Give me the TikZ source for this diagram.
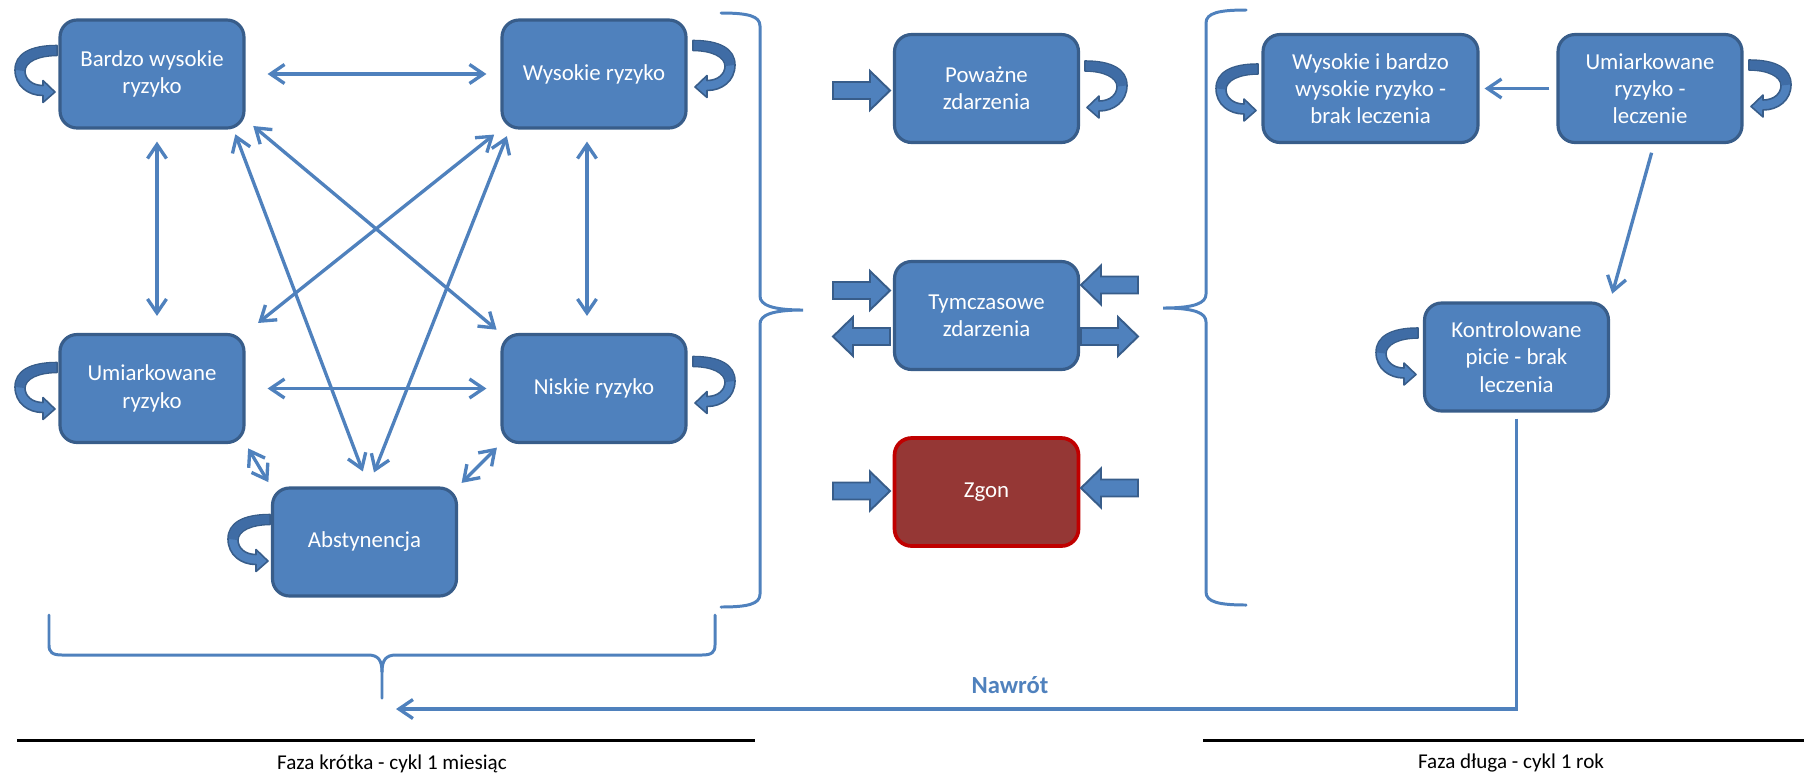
\documentclass[tikz,border=0pt]{standalone}
\usepackage{fontspec}
\setmainfont{Carlito}
\usetikzlibrary{arrows.meta}

\definecolor{boxblue}{HTML}{4F81BD}
\definecolor{boxedge}{HTML}{385D8A}
\definecolor{loopdark}{HTML}{3F6CA5}
\definecolor{deathfill}{HTML}{953735}
\definecolor{deathedge}{HTML}{C00000}

\tikzset{
    state/.style={draw=boxedge, fill=boxblue, line width=1.8pt, rounded corners=0.34cm,
        minimum width=3.68cm, minimum height=2.16cm, inner sep=2pt, align=center,
        text=white, font=\fontsize{13}{15.5}\selectfont},
    flow/.style={draw=boxblue, line width=1.9pt},
    bracket/.style={draw=boxblue, line width=1.7pt, line cap=round},
    phase/.style={font=\fontsize{12}{14}\selectfont},
    selfloop/.pic={
        \filldraw[fill=boxblue, draw=boxedge, line width=0.9pt, line join=round]
            (-3,-28.5) .. controls (-30,-28.5) and (-45,-20) .. (-45,-4)
            .. controls (-45,12) and (-32,21.5) .. (-17,21.5) -- (-17,28.5) -- (-5,18)
            -- (-17,6.5) -- (-17,11.5) .. controls (-28,11.5) and (-35,5) .. (-35,-3)
            .. controls (-35,-12) and (-22,-18.5) .. (-3,-18.5) -- cycle;
        \fill[loopdark] (-3.6,-27.8) .. controls (-30,-27.8) and (-44.3,-19.5) .. (-44.3,-4)
            -- (-35.7,-3) .. controls (-35.7,-12.5) and (-22,-19.2) .. (-3.6,-19.2) -- cycle;
    },
    blockarrow/.pic={
        \filldraw[fill=boxblue, draw=boxedge, line width=1.1pt, line join=miter]
            (0,-8.5) -- (37,-8.5) -- (37,-19.5) -- (57,0) -- (37,19.5) -- (37,8.5) -- (0,8.5) -- cycle;
    }
}

\begin{document}
\begin{tikzpicture}[x=0.02cm, y=-0.02cm, >={Straight Barb[length=0.28cm,width=0.38cm]}]
        \useasboundingbox (0,0) rectangle (1804,778);

        \node[state] (bw) at (152,74) {Bardzo wysokie\\ryzyko};
        \node[state] (wr) at (594,74) {Wysokie ryzyko};
        \node[state] (um) at (152,388.5) {Umiarkowane\\ryzyko};
        \node[state] (nr) at (594,388.5) {Niskie ryzyko};
        \node[state] (ab) at (364.5,542) {Abstynencja};
        \node[state] (pz) at (986.5,88.5) {Poważne\\zdarzenia};
        \node[state] (tz) at (986.5,315.5) {Tymczasowe\\zdarzenia};
        \node[state, draw=deathedge, fill=deathfill, line width=2.1pt] (zg) at (986.5,492) {Zgon};
        \node[state, minimum width=4.3cm] (wb) at (1370.5,88.5) {Wysokie i bardzo\\wysokie ryzyko -\\brak leczenia};
        \node[state] (ul) at (1650,88.5) {Umiarkowane\\ryzyko -\\leczenie};
        \node[state] (kp) at (1516.5,357) {Kontrolowane\\picie - brak\\leczenia};

        \pic at (60,74) {selfloop};
        \pic[xscale=-1] at (690,69) {selfloop};
        \pic at (60,391) {selfloop};
        \pic[xscale=-1] at (690,385) {selfloop};
        \pic at (273,543) {selfloop};
        \pic[xscale=-1] at (1082,89.5) {selfloop};
        \pic at (1261,92.5) {selfloop};
        \pic[xscale=-1] at (1746,88.5) {selfloop};
        \pic at (1421,356.5) {selfloop};

        \pic at (833,90.5) {blockarrow};
        \pic at (833,290.5) {blockarrow};
        \pic[xscale=-1] at (890,336.5) {blockarrow};
        \pic[xscale=-1] at (1138,285) {blockarrow};
        \pic at (1081,336.5) {blockarrow};
        \pic at (833,491) {blockarrow};
        \pic[xscale=-1] at (1138,488) {blockarrow};

        \draw[flow, <->, shorten <=0.44cm, shorten >=0.28cm] (bw) -- (wr);
        \draw[flow, <->, shorten <=0.44cm, shorten >=0.28cm] (um) -- (nr);
        \draw[flow, <->, shorten <=0.24cm, shorten >=0.34cm] ([xshift=0.1cm]bw.south) -- ([xshift=0.1cm]um.north);
        \draw[flow, <->, shorten <=0.24cm, shorten >=0.34cm] ([xshift=-0.14cm]wr.south) -- ([xshift=-0.14cm]nr.north);
        \draw[flow, <->, shorten <=0.16cm, shorten >=0.32cm] (wr.south west) -- (um.north east);
        \draw[flow, <->, shorten <=0.2cm, shorten >=0.1cm] ([yshift=0.2cm]bw.south east) -- (nr.north west);
        \draw[flow, <->, shorten <=0.1cm, shorten >=0.32cm] ([xshift=-0.24cm]bw.south east) -- ([xshift=0.08cm]ab.north);
        \draw[flow, <->, shorten <=0.14cm, shorten >=0.3cm] ([xshift=0.18cm]wr.south west) -- ([xshift=0.08cm]ab.north);
        \draw[flow, <->, shorten <=0.1cm, shorten >=0.1cm] (um.south east) -- (ab.north west);
        \draw[flow, <->, shorten <=0.1cm, shorten >=0.1cm] (nr.south west) -- (ab.north east);

        \draw[flow, ->, shorten <=0.14cm, shorten >=0.1cm] (ul) -- (wb);
        \draw[flow, ->, shorten <=0.18cm, shorten >=0.16cm] ([xshift=0.08cm]ul.south) -- (kp.north east);

        \draw[bracket] (721,13) .. controls (748,13) and (760,16) .. (760,26) -- (760,296)
            .. controls (760,305) and (772,310) .. (803,310) .. controls (772,310) and (760,315) .. (760,324)
            -- (760,594) .. controls (760,604) and (748,607) .. (721,607);
        \draw[bracket] (1246,10) .. controls (1219,10) and (1206,13) .. (1206,23) -- (1206,294)
            .. controls (1206,303) and (1195,308) .. (1163,308) .. controls (1195,308) and (1206,313) .. (1206,322)
            -- (1206,592) .. controls (1206,602) and (1219,605) .. (1246,605);
        \draw[bracket] (49,615) -- (49,645) .. controls (49,652) and (52,655) .. (62,655) -- (368,655)
            .. controls (378,655) and (382,660) .. (382,672) -- (382,698);
        \draw[bracket] (382,672) .. controls (382,660) and (386,655) .. (396,655) -- (702,655)
            .. controls (712,655) and (715,652) .. (715,645) -- (715,615);

        \coordinate (back) at (396,709);
        \draw[flow, ->] ([yshift=-0.12cm]kp.south) |- (back);
        \node[text=boxblue, font=\bfseries\fontsize{14}{16}\selectfont] (nawrot) at (1010,685) {Nawrót};

        \draw[line width=1.7pt] (17,740) -- (755,740);
        \draw[line width=1.7pt] (1203,740) -- (1804,740);
        \node[phase] (short) at (392,764) {Faza krótka - cykl 1 miesiąc};
        \node[phase] (long) at (1511,763) {Faza długa - cykl 1 rok};
    \end{tikzpicture}
\end{document}
